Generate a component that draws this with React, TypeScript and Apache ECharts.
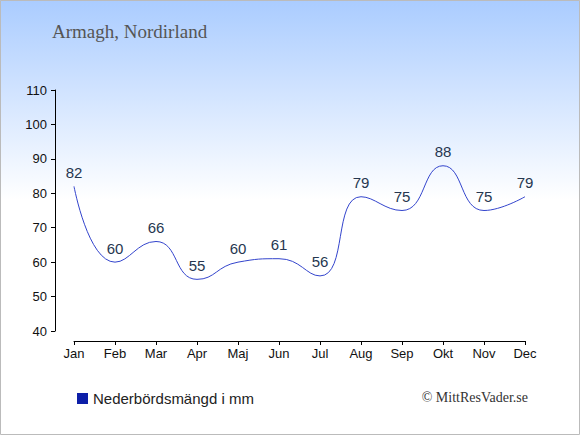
import React, { useEffect, useRef } from "react";
import * as echarts from "echarts";

const months = ["Jan", "Feb", "Mar", "Apr", "Maj", "Jun", "Jul", "Aug", "Sep", "Okt", "Nov", "Dec"];
const precipitation = [82, 60, 66, 55, 60, 61, 56, 79, 75, 88, 75, 79];
const titleText = "Armagh, Nordirland";
const seriesName = "Nederbördsmängd i mm";
const creditText = "© MittResVader.se";

export default function App() {
  const ref = useRef<HTMLDivElement>(null);
  useEffect(() => {
    if (!ref.current) return;
    const chart = echarts.init(ref.current, null, { renderer: "svg" });
    chart.setOption({
      animation: false,
      backgroundColor: new echarts.graphic.LinearGradient(0, 0, 0, 1, [
        { offset: 0, color: "#aaccff" },
        { offset: 0.46, color: "#ffffff" },
        { offset: 1, color: "#ffffff" },
      ]),
      title: {
        text: titleText,
        left: 52,
        top: 22,
        padding: 0,
        textStyle: {
          fontFamily: "Liberation Serif",
          fontSize: 19,
          fontWeight: "normal",
          color: "#555555",
        },
      },
      legend: {
        data: [
          {
            name: seriesName,
            icon: "rect",
            itemStyle: { color: "#0d1fa8", opacity: 1, borderWidth: 0 },
          },
        ],
        left: 77,
        top: 391,
        padding: 0,
        itemWidth: 11,
        itemHeight: 11,
        itemGap: 5,
        textStyle: { fontFamily: "Liberation Sans", fontSize: 15, color: "#222222" },
      },
      grid: { left: 74, right: 55, top: 90, bottom: 104, containLabel: false },
      xAxis: {
        type: "category",
        data: months,
        boundaryGap: false,
        offset: 10,
        axisLine: { lineStyle: { color: "#000000", width: 1 } },
        axisTick: { length: 4, lineStyle: { color: "#000000" }, alignWithLabel: true },
        axisLabel: { margin: 6, fontFamily: "Liberation Sans", fontSize: 13, color: "#111111" },
        splitLine: { show: false },
      },
      yAxis: {
        type: "value",
        min: 40,
        max: 110,
        interval: 10,
        offset: 19,
        axisLine: { show: true, lineStyle: { color: "#000000", width: 1 } },
        axisTick: { show: true, length: 4, lineStyle: { color: "#000000" } },
        axisLabel: { margin: 8, fontFamily: "Liberation Sans", fontSize: 13, color: "#111111" },
        splitLine: { show: false },
      },
      series: [
        {
          name: seriesName,
          type: "line",
          data: precipitation,
          smooth: 0.5,
          symbol: "circle",
          symbolSize: 1,
          showSymbol: true,
          showAllSymbol: true,
          itemStyle: { color: "rgba(0,0,0,0)", borderWidth: 0 },
          lineStyle: { color: "#3344cc", width: 1 },
          label: {
            show: true,
            position: "top",
            distance: 6,
            opacity: 1,
            fontFamily: "Liberation Sans",
            fontSize: 15,
            color: "#263750",
          },
        },
      ],
      graphic: [
        {
          type: "text",
          right: 52,
          top: 390,
          style: {
            text: creditText,
            font: '14px "Liberation Serif"',
            fill: "#333333",
          },
        },
        {
          type: "rect",
          shape: { x: 0.5, y: 0.5, width: 579, height: 434 },
          style: { fill: "none", stroke: "#bbbbbb", lineWidth: 1 },
          silent: true,
        },
      ],
    });
    return () => chart.dispose();
  }, []);
  return (
    <div
      ref={ref}
      style={{ position: "fixed", left: 0, top: 0, width: 580, height: 435 }}
    />
  );
}
